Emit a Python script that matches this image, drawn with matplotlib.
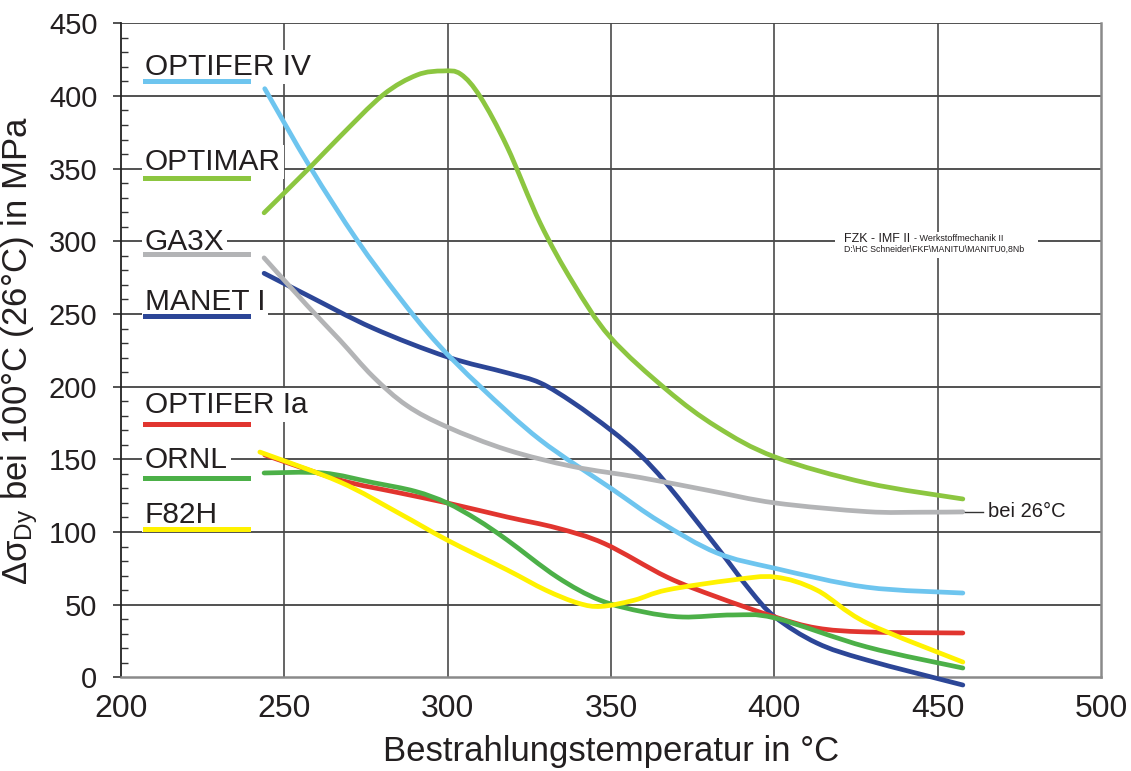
import matplotlib
matplotlib.use("Agg")
import matplotlib.pyplot as plt
import numpy as np
from matplotlib.path import Path
from matplotlib.patches import PathPatch
from matplotlib.ticker import MultipleLocator

plt.rcParams['font.family'] = ['Liberation Sans', 'DejaVu Sans']
plt.rcParams['mathtext.fontset'] = 'custom'
plt.rcParams['mathtext.rm'] = 'Liberation Sans'
plt.rcParams['mathtext.it'] = 'Liberation Sans:italic'

# Irradiation temperature (°C) and yield stress increase (MPa) per material
optifer_iv_t = [244, 257.9, 272.2, 285, 296.7, 310, 328.3, 350, 365, 382.4, 400.2, 428.3, 457.7]
optifer_iv_s = [405, 351, 301, 262, 230, 200, 163.4, 130, 107, 85.6, 75, 62, 58]

optimar_t = [243.8, 257.9, 267, 280.2, 290.6, 298.6, 304, 310, 318.2, 328.3, 338.4, 349.7, 367.1, 382.4, 400.2, 428.3, 457.7]
optimar_s = [319.6, 351, 372, 400.7, 414.4, 417.2, 415, 399.3, 365, 312.6, 271.3, 234.2, 197.7, 172.3, 151.6, 133.7, 122.7]

ga3x_t = [243.8, 256.9, 267, 277.1, 287.5, 299.8, 318.2, 338.4, 358.9, 380, 400.2, 428.3, 445, 457.7]
ga3x_s = [288.6, 256, 232, 207, 187, 172.3, 156.5, 145, 137.5, 128.5, 120, 114, 113.6, 113.8]

manet_t = [243.8, 256.9, 277.1, 299.8, 318.2, 328.3, 338.4, 350, 358.9, 367.1, 382.4, 392.5, 400.2, 413, 428.3, 457.7]
manet_s = [278, 263, 240.3, 220.5, 209.5, 202.6, 189, 170, 153, 133, 89.7, 60.1, 41.5, 23.6, 11.9, -5.3]

optifer_ia_t = [244, 267, 285, 299.8, 318.2, 333.5, 348, 367.1, 382.4, 400.2, 413, 428.3, 457.7]
optifer_ia_s = [153, 135.8, 127, 120, 110.3, 102.7, 92, 69, 55.3, 41.5, 33.9, 31.2, 30.5]

ornl_t = [243.8, 261.8, 277.1, 290, 299.8, 309, 318.2, 333.5, 346.6, 360, 372, 387.3, 400.2, 428.3, 457.7]
ornl_s = [140.6, 140.6, 134, 128, 120, 108.5, 94.5, 69, 53.1, 45, 41.5, 42.9, 40.8, 20.9, 6.4]

f82h_t = [242.5, 267, 285, 299.8, 318.2, 330, 340, 347, 357, 367.1, 387.3, 400.2, 413, 428.3, 457.7]
f82h_s = [155, 134.4, 113, 94.5, 73.9, 60, 51, 48.8, 53, 60.1, 67, 69, 60, 37.4, 10.5]

series = [
    ("MANET I", manet_t, manet_s, "#2c4697", 248.6, 252.9),
    ("OPTIFER IV", optifer_iv_t, optifer_iv_s, "#6ec5ef", 410.3, 414.4),
    ("GA3X", ga3x_t, ga3x_s, "#b3b4b6", 291.3, 293.8),
    ("OPTIMAR", optimar_t, optimar_s, "#8cc640", 343.6, 348.8),
    ("OPTIFER Ia", optifer_ia_t, optifer_ia_s, "#e1352f", 174.3, 182.0),
    ("ORNL", ornl_t, ornl_s, "#4cb048", 137.2, 144.0),
    ("F82H", f82h_t, f82h_s, "#fff200", 102.1, 106.4),
]

x_ticks = [200, 250, 300, 350, 400, 450, 500]
y_ticks = [0, 50, 100, 150, 200, 250, 300, 350, 400, 450]


def smooth_path(xs, ys):
    """Smoothed line through the given points (cubic Bezier, Catmull-Rom tangents)."""
    p = np.column_stack([xs, ys]).astype(float)
    verts = [p[0]]
    codes = [Path.MOVETO]
    n = len(p)
    for i in range(n - 1):
        p0 = p[i - 1] if i > 0 else p[i]
        p1, p2 = p[i], p[i + 1]
        p3 = p[i + 2] if i + 2 < n else p[i + 1]
        c1 = p1 + (p2 - p0) / 6.0
        c2 = p2 - (p3 - p1) / 6.0
        verts += [c1, c2, p2]
        codes += [Path.CURVE4] * 3
    return Path(verts, codes)


fig = plt.figure(figsize=(11.31, 7.71), dpi=100)
ax = fig.add_axes([0.107, 0.1215, 0.8665, 0.8483])
ax.set_xlim(200, 500)
ax.set_ylim(0, 450)
ax.set_xticks(x_ticks)
ax.set_yticks(y_ticks)
ax.yaxis.set_minor_locator(MultipleLocator(10))

for y in y_ticks[1:]:
    ax.axhline(y, color="#333333", lw=1.2, zorder=1)
for x in x_ticks[1:-1]:
    ax.axvline(x, color="#4a4a4a", lw=1.2, zorder=1)

ax.spines['top'].set_visible(False)
ax.spines['left'].set_color("#222222")
ax.spines['left'].set_linewidth(1.3)
ax.spines['bottom'].set_color("#8a8a8a")
ax.spines['bottom'].set_linewidth(1.8)
ax.spines['right'].set_color("#8a8a8a")
ax.spines['right'].set_linewidth(1.8)

ax.tick_params(axis='y', which='major', direction='out', length=6, width=1.2,
               color="#333333", labelsize=21, pad=11)
ax.tick_params(axis='y', which='minor', direction='in', length=5, width=1.0,
               color="#333333")
ax.tick_params(axis='x', which='major', length=0, labelsize=23, pad=12)
for lab in ax.get_yticklabels() + ax.get_xticklabels():
    lab.set_color("#231f20")

for name, t, s, color, ly, ty in series:
    patch = PathPatch(smooth_path(t, s), fill=False, edgecolor=color, lw=3.4,
                      capstyle='round', joinstyle='round', zorder=3,
                      clip_on=False)
    ax.add_patch(patch)
    ax.plot([207.3, 238.9], [ly, ly], color=color, lw=3.6, zorder=3)
    ax.text(207.3, ty, name, fontsize=21.5, color="#231f20", ha='left',
            va='baseline', zorder=2,
            bbox=dict(boxstyle='square,pad=0.1', fc='white', ec='none'))

# Note on the GA3X curve end
ax.plot([458.3, 464.0], [113.8, 113.8], color="#333333", lw=1.0, zorder=3)
ax.text(465.5, 113.8, "bei 26°C", fontsize=14.5, color="#231f20",
        ha='left', va='center', zorder=3)

# Institute stamp
ax.add_patch(plt.Rectangle((418.6, 288.6), 62.1, 17.9, fc='white', ec='none',
                           zorder=1.5))
stamp = ax.text(421.3, 299.5, "FZK - IMF II ", fontsize=9, color="#231f20",
                ha='left', va='baseline', zorder=2)
ax.annotate("- Werkstoffmechanik II", xy=(1, 0), xycoords=stamp,
            xytext=(0, 1.5), textcoords='offset points',
            fontsize=6.5, color="#231f20", ha='left', va='bottom', zorder=2)
ax.text(421.3, 297.5, "D:\\HC Schneider\\FKF\\MANITU\\MANITU0,8Nb", fontsize=6.3,
        color="#231f20", ha='left', va='top', zorder=2)

ax.set_xlabel("Bestrahlungstemperatur in °C", fontsize=25, color="#231f20",
              labelpad=8)
ax.set_ylabel(r"Δσ$_{\mathrm{Dy}}$ bei 100°C (26°C) in MPa", fontsize=25,
              color="#231f20", labelpad=6)

fig.savefig("out.png", dpi=100)
